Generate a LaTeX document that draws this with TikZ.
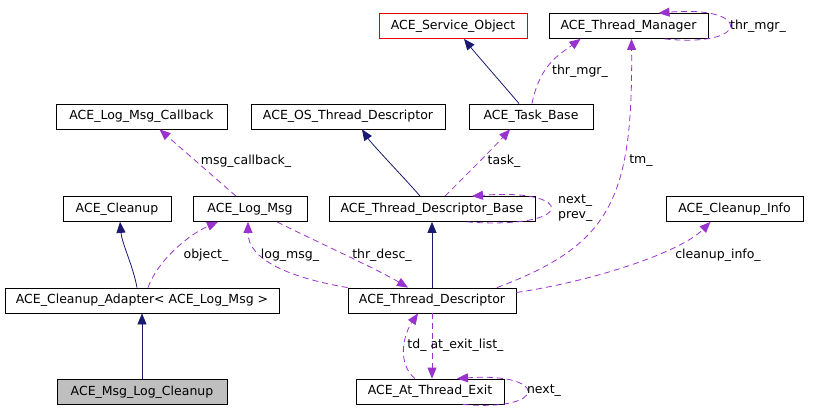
\documentclass[tikz,border=0pt]{standalone}
\usepackage{fontspec}
\setmainfont{DejaVu Sans}
\usepackage{tikz}
\usetikzlibrary{
  arrows.meta,
  positioning,
  calc
}
\definecolor{inhcolor}{HTML}{191970}
\definecolor{memcolor}{HTML}{9A32CD}
\definecolor{mainfill}{HTML}{BFBFBF}
\definecolor{extcolor}{HTML}{E00000}
\newcommand{\ul}{\_}

\begin{document}
\begin{tikzpicture}[
  x=1bp, y=-1bp,
  cls/.style={
    draw, line width=0.8bp, minimum width=#1, minimum height=25bp,
    inner sep=0pt, font=\fontsize{12.5bp}{14bp}\selectfont
  },
  inh/.style={-{Triangle[length=11bp, width=9bp]}, line width=0.8bp, inhcolor},
  mem/.style={-{Triangle[length=11bp, width=9bp]}, line width=0.8bp, memcolor,
    dash pattern=on 6bp off 4bp},
  lbl/.style={inner sep=0pt, font=\fontsize{12.5bp}{15bp}\selectfont}
]
  \useasboundingbox (0,0) rectangle (824,417);

  % ── Top row ──
  \node[cls=148bp, draw=extcolor] (svc) at (453,26) {ACE\ul Service\ul Object};
  \node[cls=159bp] (tmgr) at (628.5,26) {ACE\ul Thread\ul Manager};

  % ── Second row ──
  \node[cls=171bp] (cb) at (141.5,116.5) {ACE\ul Log\ul Msg\ul Callback};
  \node[cls=194bp] (ostd) at (348,116.5) {ACE\ul OS\ul Thread\ul Descriptor};
  \node[cls=124bp] (task) at (531,116.5) {ACE\ul Task\ul Base};

  % ── Third row ──
  \node[cls=108bp] (clean) at (117,209) {ACE\ul Cleanup};
  \node[cls=114bp] (lmsg) at (250,209) {ACE\ul Log\ul Msg};
  \node[cls=206bp] (tdb) at (432,209) {ACE\ul Thread\ul Descriptor\ul Base};
  \node[cls=137bp] (cinfo) at (734.5,209) {ACE\ul Cleanup\ul Info};

  % ── Fourth row ──
  \node[cls=274bp] (adapt) at (142,300.5) {ACE\ul Cleanup\ul Adapter< ACE\ul Log\ul Msg >};
  \node[cls=168bp] (td) at (432,300.5) {ACE\ul Thread\ul Descriptor};

  % ── Bottom row ──
  \node[cls=170bp, fill=mainfill, below=66bp of adapt] (mlc) {ACE\ul Msg\ul Log\ul Cleanup};
  \node[cls=148bp] (ate) at (430,391.5) {ACE\ul At\ul Thread\ul Exit};

  % ── Inheritance ──
  \draw[inh] (mlc) -- (adapt);
  \draw[inh] ([xshift=-5bp]adapt.north) .. controls +(-4,-22) and +(2,22) .. ([xshift=3bp]clean.south);
  \draw[inh] (td) -- (tdb);
  \draw[inh] ([xshift=-12bp]tdb.north) .. controls +(-10,-12) and +(10,15) .. ([xshift=14bp]ostd.south);
  \draw[inh] ([xshift=-12bp]task.north) .. controls +(-10,-12) and +(12,15) .. ([xshift=11bp]svc.south);

  % ── Members ──
  \draw[mem] ([xshift=-14bp]lmsg.north) -- ([xshift=18bp]cb.south);
  \node[lbl] (l1) at (246,161) {msg\ul callback\ul};

  \draw[mem] ([xshift=6bp]adapt.north) .. controls +(10,-28) and +(-28,12) .. ([xshift=-32bp]lmsg.south);
  \node[lbl] (l2) at (206,255) {object\ul};

  \draw[mem] (td.north west) .. controls +(-58,-10) and +(0,38) .. ([xshift=-2bp]lmsg.south);
  \node[lbl] (l3) at (290,255) {log\ul msg\ul};

  \draw[mem] ([xshift=27bp]lmsg.south) .. controls +(40,20) and +(-30,-18) .. ([xshift=-24bp]td.north);
  \node[lbl] (l4) at (382,255) {thr\ul desc\ul};

  \draw[mem] ([xshift=13bp]tdb.north) .. controls +(20,-20) and +(-20,22) .. ([xshift=-21bp]task.south);
  \node[lbl] (l5) at (504,161) {task\ul};

  \draw[mem] ([xshift=1bp]task.north) .. controls +(8,-40) and +(-20,15) .. ([xshift=-48bp]tmgr.south);
  \node[lbl] (l6) at (580,71) {thr\ul mgr\ul};

  \draw[mem] ([xshift=36bp]tmgr.south) .. controls (752,48) and (752,5) .. ([xshift=30bp]tmgr.north);
  \node[lbl] (l7) at (758,26) {thr\ul mgr\ul};

  \draw[mem] ([xshift=65bp]td.north) .. controls (610,245) and (633,200) .. ([xshift=3bp]tmgr.south);
  \node[lbl] (l8) at (641,161) {tm\ul};

  \draw[mem] ([xshift=35bp]tdb.south) .. controls (577,230) and (577,188) .. ([xshift=40bp]tdb.north);
  \node[lbl, align=left, anchor=west] (l9) at (558,208.5) {next\ul\\prev\ul};

  \draw[mem] ([yshift=8bp]td.east) .. controls +(80,-12) and +(-30,30) .. ([xshift=-24bp]cinfo.south);
  \node[lbl] (l10) at (718,255) {cleanup\ul info\ul};

  \draw[mem] (td.south) -- (td.south |- ate.north);
  \node[lbl] (l11) at (467,345) {at\ul exit\ul list\ul};

  \draw[mem] ([xshift=-15bp]ate.north) .. controls +(-18,-15) and +(-15,22) .. ([xshift=-14bp]td.south);
  \node[lbl] (l12) at (417,345) {td\ul};

  \draw[mem] ([xshift=33bp]ate.south) .. controls (549,412) and (549,372) .. ([xshift=27bp]ate.north);
  \node[lbl] (l13) at (544,391) {next\ul};

\end{tikzpicture}
\end{document}
